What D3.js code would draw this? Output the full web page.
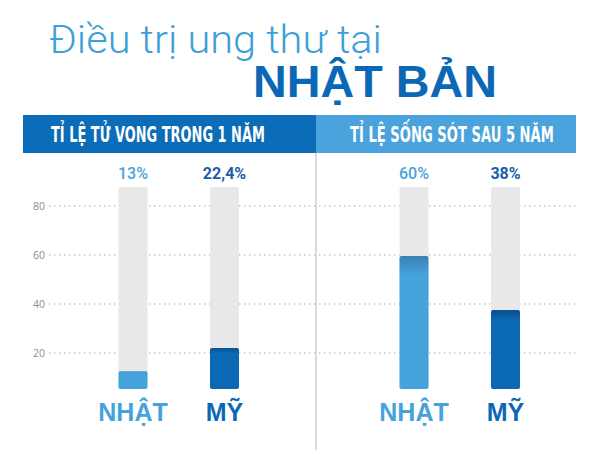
<!DOCTYPE html>
<html><head><meta charset="utf-8">
<script src="https://cdn.jsdelivr.net/npm/d3@7"></script>
<style>html,body{margin:0;padding:0;background:#fff;}svg{display:block;}</style>
</head><body>
<script>
const titleLine1 = "Điều trị ung thư tại";
const titleLine2 = "NHẬT BẢN";
const panels = ["TỈ LỆ TỬ VONG TRONG 1 NĂM", "TỈ LỆ SỐNG SÓT SAU 5 NĂM"];
const categories = ["NHẬT", "MỸ"];
const mortality = [13, 22.4];
const survival = [60, 38];
const mortalityLabels = ["13%", "22,4%"];
const survivalLabels = ["60%", "38%"];
const yTicks = [20, 40, 60, 80];

const W = 600, H = 450;
const svg = d3.select("body").append("svg").attr("width", W).attr("height", H);
const defs = svg.append("defs");

const lightBlue = "#45a2db", darkBlue = "#0b68b4";
const catColor = d3.scaleOrdinal().domain(categories).range([lightBlue, darkBlue]);
const catDark = d3.scaleOrdinal().domain(categories).range(["#3a80b0", "#0a4d88"]);
const labelColor = d3.scaleOrdinal().domain(categories).range(["#4aa3db", "#1a5ea8"]);

// helper: horizontally fit a text to a target width using a scale transform
function fitText(sel, x, yb, target) {
  sel.attr("x", 0).attr("y", 0);
  const n = sel.node().getComputedTextLength();
  const sx = n > 0 ? target / n : 1;
  sel.attr("transform", `translate(${x},${yb}) scale(${sx},1)`);
}

// titles
const t1 = svg.append("text")
  .attr("font-family", "Roboto, 'Open Sans', sans-serif").attr("font-weight", 300)
  .attr("font-size", 39).attr("fill", "#3d9fd9").text(titleLine1);
fitText(t1, 49, 53, 333);
const t2 = svg.append("text")
  .attr("font-family", "'Liberation Sans', Arial, sans-serif").attr("font-weight", 700)
  .attr("font-size", 44).attr("fill", "#0b68b4").text(titleLine2);
fitText(t2, 253, 97, 244);

// panel header bands
const panelX = d3.scaleOrdinal().domain(panels).range([23, 316]);
const panelW = d3.scaleOrdinal().domain(panels).range([293, 260]);
const panelFill = d3.scaleOrdinal().domain(panels).range(["#0b6cb8", "#4aa3dc"]);
const panelTextX = d3.scaleOrdinal().domain(panels).range([158, 452]);
const panelTextW = d3.scaleOrdinal().domain(panels).range([214, 204]);

svg.selectAll("rect.band").data(panels).join("rect").attr("class", "band")
  .attr("x", d => panelX(d)).attr("y", 115).attr("width", d => panelW(d)).attr("height", 38)
  .attr("fill", d => panelFill(d));
svg.selectAll("text.band").data(panels).join("text").attr("class", "band")
  .attr("font-family", "'Liberation Sans Narrow', 'DejaVu Sans Condensed', sans-serif")
  .attr("font-weight", 700).attr("font-size", 21).attr("fill", "#fff")
  .text(d => d)
  .each(function (d) { fitText(d3.select(this), panelTextX(d) - panelTextW(d) / 2, 142, panelTextW(d)); });

// divider
svg.append("line").attr("x1", 316).attr("x2", 316).attr("y1", 153).attr("y2", 450)
  .attr("stroke", "#c9d1da").attr("stroke-width", 1.5);

// y scale
const y = d3.scaleLinear().domain([0, 80]).range([402, 206]);

// gridlines
svg.selectAll("line.grid").data(yTicks).join("line").attr("class", "grid")
  .attr("x1", 49).attr("x2", 576).attr("y1", d => y(d)).attr("y2", d => y(d))
  .attr("stroke", "#c4c4c4").attr("stroke-width", 1.4).attr("stroke-dasharray", "1.4,3.6");
svg.selectAll("text.tick").data(yTicks).join("text").attr("class", "tick")
  .attr("x", 45).attr("y", d => y(d) + 4).attr("text-anchor", "end")
  .attr("font-family", "'Open Sans', sans-serif").attr("font-size", 10.5).attr("fill", "#8e8e8e")
  .text(d => d);

// bars
const xLeft = d3.scalePoint().domain(categories).range([133, 224.5]);
const xRight = d3.scalePoint().domain(categories).range([414, 505.5]);
const barW = 29, bgTop = 187, barBottom = 389;

function drawPanel(xs, values, labels, id) {
  const data = categories.map((c, i) => ({ c, v: values[i], label: labels[i], i }));
  const g = svg.append("g");
  g.selectAll("rect.bg").data(data).join("rect").attr("class", "bg")
    .attr("x", d => xs(d.c) - barW / 2).attr("y", bgTop).attr("width", barW)
    .attr("height", barBottom - bgTop).attr("rx", 2).attr("fill", "#e8e8e8");
  data.forEach(d => {
    const gid = `grad-${id}-${d.i}`;
    const top = y(d.v);
    const fade = Math.min(30, (barBottom - top) * 0.15);
    const grad = defs.append("linearGradient").attr("id", gid)
      .attr("gradientUnits", "userSpaceOnUse")
      .attr("x1", 0).attr("x2", 0).attr("y1", top).attr("y2", top + fade);
    grad.append("stop").attr("offset", 0).attr("stop-color", catDark(d.c));
    grad.append("stop").attr("offset", 1).attr("stop-color", catColor(d.c));
  });
  g.selectAll("rect.fillbar").data(data).join("rect").attr("class", "fillbar")
    .attr("x", d => xs(d.c) - barW / 2).attr("y", d => y(d.v) + 1).attr("width", barW)
    .attr("height", d => barBottom - y(d.v) - 1).attr("rx", 2)
    .attr("fill", d => `url(#grad-${id}-${d.i})`);
  g.selectAll("text.val").data(data).join("text").attr("class", "val")
    .attr("x", d => xs(d.c)).attr("y", 179).attr("text-anchor", "middle")
    .attr("font-family", "Roboto, 'Liberation Sans', sans-serif")
    .attr("font-weight", d => d.i === 0 ? 500 : 700).attr("font-size", 16)
    .attr("fill", d => labelColor(d.c)).text(d => d.label);
  g.selectAll("text.cat").data(data).join("text").attr("class", "cat")
    .attr("x", d => xs(d.c)).attr("y", 421).attr("text-anchor", "middle")
    .attr("font-family", "'Liberation Sans', Arial, sans-serif").attr("font-weight", 700)
    .attr("font-size", 25).attr("fill", d => catColor(d.c)).text(d => d.c);
}
drawPanel(xLeft, mortality, mortalityLabels, "m");
drawPanel(xRight, survival, survivalLabels, "s");
</script>
</body></html>
